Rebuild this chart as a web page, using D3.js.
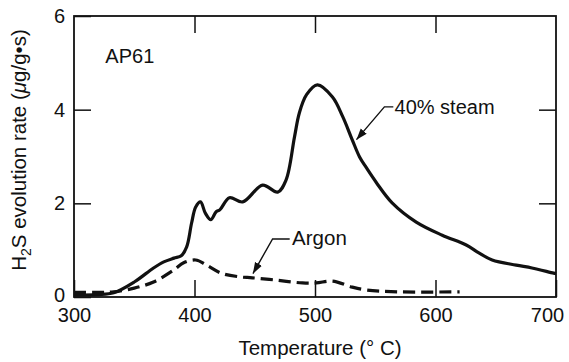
<!DOCTYPE html>
<html>
<head>
<meta charset="utf-8">
<script src="https://cdn.jsdelivr.net/npm/d3@7"></script>
<style>
  body{margin:0;background:#fff;}
  text{font-family:"Liberation Sans",Arial,sans-serif;fill:#111;}
  .axis text{font-size:20px;}
  .axis line{stroke:#111;stroke-width:1.5;}
</style>
</head>
<body>
<div id="chart"></div>
<script>
/* H2S evolution rate vs temperature, AP61 — steam vs argon */
var xTicks=[300,400,500,600,700];
var yTicks=[0,2,4,6];

var steamT=[300,320,333,350,366,374.5,383,389,393.5,397.6,401,405,409,413.5,418,421,429,440,456.5,469,476,483,487,493,502,514.5,523,531,537,542.6,551,564,584,605.6,625.5,636,647,667,680,698,700];
var steamV=[0.04,0.05,0.09,0.32,0.62,0.75,0.83,0.88,1.07,1.58,1.92,2.03,1.79,1.65,1.82,1.86,2.12,2.03,2.39,2.24,2.50,3.42,3.93,4.32,4.53,4.27,3.85,3.35,2.99,2.76,2.44,2.01,1.60,1.32,1.11,0.94,0.79,0.68,0.62,0.51,0.50];

var argonT=[300,320,333,350,366,383,391,401,410,422,437.5,448,468,489.6,501,514.5,531,542.6,570,620];
var argonV=[0.10,0.10,0.11,0.19,0.32,0.58,0.73,0.79,0.68,0.51,0.43,0.41,0.36,0.30,0.30,0.34,0.21,0.15,0.11,0.11];

var W=569,H=362, m={top:16,right:13,bottom:65,left:74};
var width=W-m.left-m.right, height=H-m.top-m.bottom;
var svg=d3.select("#chart").append("svg").attr("width",W).attr("height",H);
var g=svg.append("g").attr("transform","translate("+m.left+","+m.top+")");

var x=d3.scaleLinear().domain([300,700]).range([0,width]);
var y=d3.scaleLinear().domain([0,6]).range([height,0]);

/* axes with inward ticks on all four sides */
var xa=g.append("g").attr("class","axis").attr("transform","translate(0,"+height+")")
  .call(d3.axisBottom(x).tickValues(xTicks).tickSizeInner(-17).tickSizeOuter(0).tickPadding(11).tickFormat(d3.format("d")));
xa.select(".domain").remove();
xa.selectAll(".tick text").filter(function(d){return d===700;}).attr("dx",-9);
var ya=g.append("g").attr("class","axis")
  .call(d3.axisLeft(y).tickValues(yTicks).tickSizeInner(-17).tickSizeOuter(0).tickPadding(9).tickFormat(d3.format("d")));
ya.select(".domain").remove();
ya.selectAll(".tick text").filter(function(d){return d===0;}).attr("dy","0.2em");
g.append("g").attr("class","axis")
  .call(d3.axisTop(x).tickValues(xTicks.slice(1,-1)).tickSizeInner(-17).tickSizeOuter(0).tickFormat(""))
  .select(".domain").remove();
g.append("g").attr("class","axis").attr("transform","translate("+width+",0)")
  .call(d3.axisRight(y).tickValues(yTicks.slice(1,-1)).tickSizeInner(-17).tickSizeOuter(0).tickFormat(""))
  .select(".domain").remove();
g.selectAll(".axis text").attr("fill","#111");

g.append("rect").attr("width",width).attr("height",height)
  .attr("fill","none").attr("stroke","#111").attr("stroke-width",1.8);

var line=d3.line().x(function(d){return x(d[0]);}).y(function(d){return y(d[1]);}).curve(d3.curveCatmullRom.alpha(0.5));

g.append("path").datum(d3.zip(steamT,steamV)).attr("d",line)
  .attr("fill","none").attr("stroke","#111").attr("stroke-width",3.2).attr("stroke-linejoin","round");
g.append("path").datum(d3.zip(argonT,argonV)).attr("d",line)
  .attr("fill","none").attr("stroke","#111").attr("stroke-width",3.2).attr("stroke-dasharray","12,6");

/* arrow marker */
svg.append("defs").append("marker").attr("id","arr").attr("viewBox","0 0 10 10")
  .attr("refX",10).attr("refY",5).attr("markerWidth",8).attr("markerHeight",8).attr("orient","auto")
  .append("path").attr("d","M0,1.5L10,5L0,8.5Z").attr("fill","#111");

function leader(pts){
  g.append("path").attr("d",d3.line()(pts.map(function(p){return [x(p[0]),y(p[1])];})))
    .attr("fill","none").attr("stroke","#111").attr("stroke-width",1.4).attr("marker-end","url(#arr)");
}
leader([[565,4.06],[557.6,4.06],[534.4,3.36]]);
leader([[479,1.24],[464.8,1.24],[448.5,0.50]]);

g.append("text").attr("x",x(326)).attr("y",y(5.0)).style("font-size","20px").text("AP61");
g.append("text").attr("x",x(566)).attr("y",y(3.9)).style("font-size","20px").text("40% steam");
g.append("text").attr("x",x(481)).attr("y",y(1.11)).style("font-size","20.5px").text("Argon");

/* axis titles */
svg.append("text").attr("x",320).attr("y",355).attr("text-anchor","middle").style("font-size","20.5px")
  .text("Temperature (\u00b0 C)");
var yt=svg.append("text").attr("transform","translate(26,150) rotate(-90)").attr("text-anchor","middle").style("font-size","20.5px");
yt.append("tspan").text("H");
yt.append("tspan").attr("dy",5).style("font-size","14px").text("2");
yt.append("tspan").attr("dy",-5).text("S evolution rate (");
yt.append("tspan").style("font-style","italic").text("\u03bc");
yt.append("tspan").text("g/g\u2022s)");
</script>
</body>
</html>
